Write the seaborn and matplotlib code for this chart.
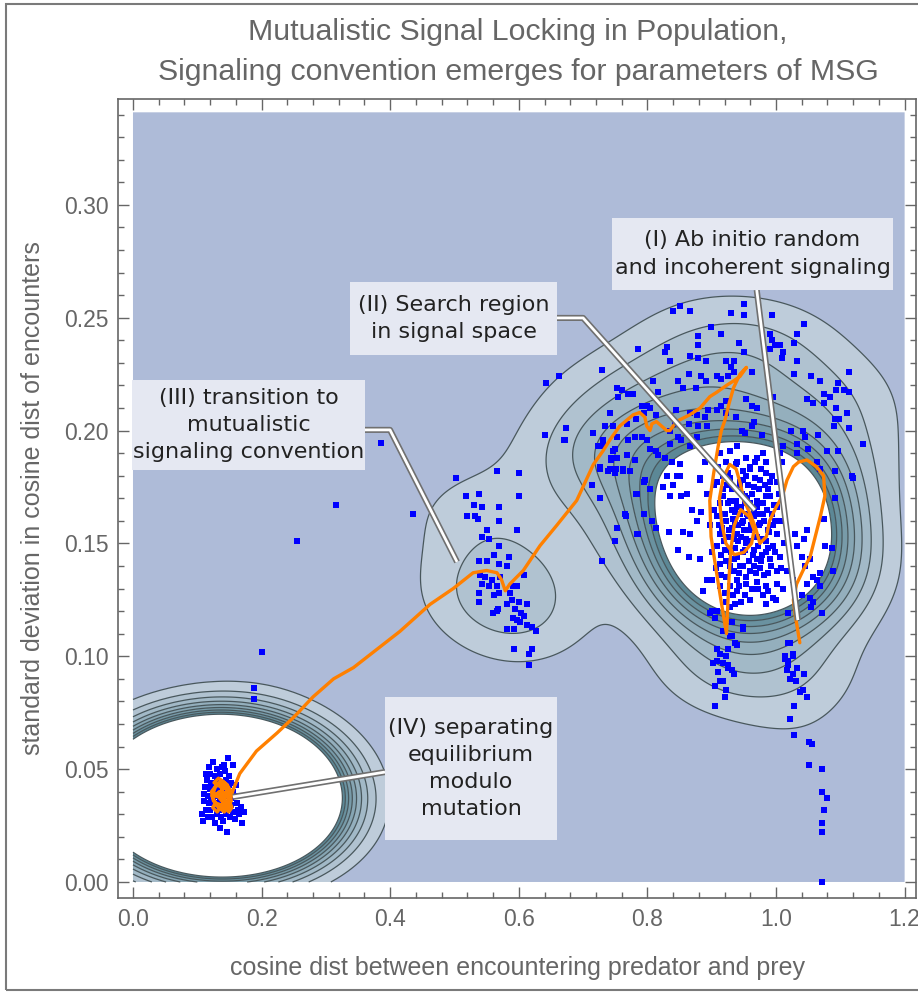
import numpy as np
import pandas as pd
import matplotlib
matplotlib.use("Agg")
import matplotlib.pyplot as plt
import matplotlib.patheffects as pe
from matplotlib.patches import Rectangle
from matplotlib.ticker import MultipleLocator, FormatStrFormatter
import seaborn as sns

sns.set_style("ticks")
plt.rcParams['font.family'] = ['Liberation Sans', 'DejaVu Sans']

# ---------------- data ----------------
title = "Mutualistic Signal Locking in Population,\nSignaling convention emerges for parameters of MSG"
x_label = "cosine dist between encountering predator and prey"
y_label = "standard deviation in cosine dist of encounters"

upper_pts = [
    (0.851,0.255),(0.840,0.253),(0.867,0.253),(0.950,0.256),(0.930,0.252),(0.950,0.251),(0.993,0.251),
    (1.044,0.247),(0.899,0.246),(0.914,0.243),(0.879,0.242),(0.879,0.238),(0.942,0.239),(0.950,0.235),
    (0.991,0.243),(0.993,0.240),(0.998,0.238),(0.991,0.236),(1.006,0.238),(1.011,0.235),(1.009,0.232),
    (1.032,0.243),(1.028,0.239),(0.786,0.236),(0.830,0.237),(0.827,0.235),(0.730,0.227),(0.835,0.231),
    (0.866,0.233),(0.879,0.232),(0.891,0.231),(0.922,0.231),(0.935,0.231),(0.930,0.228),(0.935,0.226),
    (0.962,0.226),(1.028,0.225),(1.032,0.231),(1.055,0.224),(1.068,0.222),(1.114,0.226),(0.848,0.222),
    (0.856,0.219),(0.876,0.219),(0.864,0.225),(0.883,0.224),(0.891,0.222),(0.908,0.224),(0.914,0.223),
    (0.926,0.224),(0.817,0.217),(0.809,0.222),(0.752,0.219),(0.760,0.218),(0.755,0.215),(0.770,0.216),
    (0.778,0.216),(1.097,0.221),(1.094,0.218),(1.105,0.218),(1.048,0.214),(1.057,0.212),(1.074,0.216),
    (1.084,0.215),(1.114,0.217),(1.074,0.212),(1.094,0.210),(1.110,0.208),(1.092,0.205),(1.098,0.205),
    (1.090,0.202),(1.114,0.201),(0.791,0.211),(0.799,0.211),(0.804,0.210),(0.794,0.208),(0.814,0.207),
    (0.783,0.205),(0.768,0.203),(0.747,0.202),(0.734,0.202),(0.742,0.208),(0.844,0.209),(0.866,0.208),
    (0.877,0.207),(0.895,0.209),(0.908,0.209),(0.923,0.208),(0.915,0.211),(0.923,0.213),(0.954,0.214),
    (0.962,0.211),(0.970,0.210),(0.995,0.215),(0.966,0.204),(0.937,0.206),(0.947,0.200),(0.952,0.199),
    (0.962,0.202),(0.978,0.198),(0.892,0.202),(0.890,0.206),(0.879,0.202),(0.864,0.203),(0.843,0.203),
    (0.835,0.200),(0.715,0.199),(0.731,0.196),(0.752,0.197),(0.770,0.196),(0.781,0.197),(0.791,0.197),
    (0.799,0.196),(0.835,0.194),(0.848,0.197),(0.853,0.196),(0.866,0.193),(0.877,0.197),(0.723,0.193),
    (0.747,0.191),(0.752,0.188),(0.744,0.187),(0.768,0.189),(0.804,0.192),(0.814,0.191),(0.817,0.189),
    (0.827,0.188),(0.838,0.186),(0.851,0.185),(0.742,0.183),(0.751,0.183),(0.762,0.183),(0.773,0.182),
    (0.726,0.184),(0.794,0.177),(0.830,0.180),(0.846,0.180),(1.024,0.200),(1.042,0.200),(1.045,0.197),
    (1.066,0.198),(1.032,0.194),(1.011,0.193),(1.006,0.190),(1.032,0.190),(1.050,0.192),(1.079,0.191),
    (1.097,0.191),(1.135,0.194),(1.010,0.186),(1.092,0.182),(1.063,0.186),(0.913,0.190),(0.928,0.191),
    (0.939,0.193),(0.954,0.188),(0.970,0.188),(0.980,0.190),(0.985,0.186),(0.923,0.186),(0.939,0.186),
    (0.960,0.183),(0.991,0.177),(0.918,0.180),(0.949,0.178),(0.882,0.178),(0.890,0.186),
]

core_pts = [
    (0.765,0.163),(0.783,0.172),(0.796,0.178),(0.804,0.174),(0.794,0.163),(0.807,0.160),(0.814,0.157),
    (0.786,0.154),(0.825,0.175),(0.840,0.176),(0.851,0.180),(0.835,0.171),(0.853,0.171),(0.861,0.172),
    (0.882,0.179),(0.869,0.165),(0.884,0.164),(0.833,0.155),(0.856,0.155),(0.877,0.160),(0.866,0.154),
    (0.848,0.147),(0.864,0.144),(0.882,0.143),(0.892,0.134),(0.887,0.129),(0.900,0.134),
    (0.908,0.177),(0.918,0.174),(0.929,0.179),(0.944,0.177),(0.954,0.180),(0.965,0.175),(0.975,0.178),
    (0.985,0.181),(0.988,0.174),(1.001,0.177),(0.913,0.168),(0.929,0.169),(0.939,0.166),(0.952,0.168),
    (0.965,0.165),(0.980,0.168),(0.993,0.163),(1.001,0.166),(0.908,0.162),(0.923,0.160),(0.936,0.159),
    (0.949,0.160),(0.962,0.157),(0.975,0.159),(0.988,0.156),(0.913,0.154),(0.926,0.153),(0.939,0.154),
    (0.954,0.152),(0.970,0.153),(0.985,0.151),(0.996,0.149),(0.908,0.149),(0.921,0.147),(0.936,0.148),
    (0.949,0.146),(0.965,0.147),(0.978,0.145),(0.991,0.143),(1.006,0.144),(0.913,0.141),(0.929,0.140),
    (0.944,0.140),(0.960,0.138),(0.975,0.139),(0.988,0.137),(1.001,0.138),(0.923,0.135),(0.939,0.134),
    (0.954,0.132),(0.970,0.133),(0.985,0.131),(1.001,0.132),(1.011,0.130),(0.939,0.129),(0.952,0.127),
    (0.980,0.127),(0.996,0.126),(0.913,0.131),(0.916,0.157),(0.931,0.157),(0.944,0.163),(0.957,0.162),
    (0.970,0.169),(0.980,0.163),(0.998,0.160),(0.934,0.143),(0.970,0.143),(0.954,0.150),(0.941,0.151),
    (0.931,0.165),(0.947,0.172),(0.985,0.171),
    (1.030,0.154),(1.043,0.152),(1.048,0.156),(1.032,0.149),(1.040,0.144),(1.053,0.143),(1.045,0.140),
    (1.058,0.135),(1.048,0.132),(1.063,0.134),(1.069,0.131),(1.053,0.126),(1.040,0.127),(1.058,0.124),
    (1.069,0.137),(1.074,0.161),(1.087,0.148),(1.071,0.119),(1.055,0.122),(1.019,0.119),(1.017,0.138),
    (1.027,0.134),(1.092,0.170),(1.118,0.180),(1.068,0.183),(0.897,0.119),(0.905,0.117),(0.928,0.122),
    (0.949,0.113),(0.936,0.123),(0.923,0.124),(1.120,0.179),(1.076,0.149),(1.089,0.138),
]

dense_core_pts = [
    (0.892,0.172),(0.897,0.158),(0.901,0.146),(0.904,0.165),(0.906,0.139),(0.910,0.184),(0.911,0.158),
    (0.914,0.136),(0.917,0.171),(0.919,0.151),(0.920,0.163),(0.922,0.142),(0.925,0.181),(0.926,0.168),
    (0.927,0.156),(0.928,0.131),(0.930,0.146),(0.932,0.174),(0.933,0.161),(0.934,0.152),(0.935,0.138),
    (0.937,0.185),(0.938,0.169),(0.940,0.144),(0.941,0.158),(0.943,0.131),(0.944,0.176),(0.945,0.153),
    (0.946,0.166),(0.948,0.140),(0.949,0.182),(0.950,0.156),(0.951,0.171),(0.952,0.147),(0.953,0.135),
    (0.955,0.163),(0.956,0.176),(0.957,0.151),(0.958,0.142),(0.959,0.168),(0.960,0.184),(0.961,0.158),
    (0.962,0.130),(0.963,0.172),(0.964,0.145),(0.966,0.162),(0.967,0.153),(0.968,0.179),(0.969,0.137),
    (0.971,0.166),(0.972,0.149),(0.973,0.174),(0.974,0.158),(0.976,0.142),(0.977,0.183),(0.978,0.168),
    (0.979,0.152),(0.981,0.136),(0.982,0.160),(0.983,0.176),(0.984,0.146),(0.986,0.165),(0.987,0.129),
    (0.989,0.155),(0.990,0.171),(0.992,0.140),(0.994,0.180),(0.995,0.158),(0.997,0.167),(0.999,0.146),
    (1.002,0.154),(1.004,0.172),(1.006,0.160),(1.008,0.139),(1.012,0.150),(0.903,0.176),(0.915,0.145),
    (0.924,0.176),(0.936,0.164),(0.947,0.159),(0.958,0.156),(0.965,0.140),(0.975,0.163),(0.988,0.148),
    (0.942,0.137),(0.955,0.170),(0.968,0.186),(0.921,0.128),(0.933,0.127),(0.946,0.124),(0.959,0.125),
    (0.972,0.130),(0.985,0.123),(1.000,0.125),
]
core_overlap = 4   # stacked samples behind each plotted point of the dense core

tail_pts = [
    (0.931,0.109),(0.936,0.106),(0.908,0.103),(0.913,0.101),(0.923,0.100),(0.908,0.098),(0.918,0.097),
    (0.926,0.095),(1.022,0.106),(1.027,0.101),(1.014,0.099),(1.019,0.096),
    (0.900,0.120),(0.908,0.120),(0.905,0.117),(0.931,0.115),(0.918,0.111),(0.928,0.109),(0.939,0.105),
    (0.949,0.112),(0.926,0.103),(0.910,0.093),(0.902,0.097),(0.926,0.096),(0.931,0.094),(0.934,0.092),
    (0.918,0.089),(0.905,0.087),(0.923,0.085),(0.921,0.082),(0.905,0.078),(0.913,0.089),
    (1.019,0.106),(1.027,0.100),(1.014,0.100),(1.019,0.098),(1.017,0.094),(1.032,0.095),(1.027,0.092),
    (1.021,0.090),(1.044,0.092),(1.031,0.089),(1.042,0.085),(1.048,0.082),(1.037,0.084),(1.028,0.078),
    (1.021,0.072),(1.028,0.065),(1.052,0.062),(1.056,0.061),(1.052,0.052),(1.071,0.050),(1.071,0.040),
    (1.079,0.037),(1.075,0.032),(1.071,0.026),(1.071,0.022),(1.071,0.000),(1.055,0.122),(1.071,0.119),
]

mid_pts = [
    (0.502,0.179),(0.566,0.182),(0.600,0.181),(0.436,0.163),(0.518,0.171),(0.538,0.172),(0.530,0.167),
    (0.542,0.166),(0.519,0.162),(0.532,0.162),(0.536,0.161),(0.569,0.166),(0.569,0.160),(0.600,0.171),
    (0.550,0.156),(0.542,0.153),(0.554,0.152),(0.597,0.156),(0.569,0.149),(0.561,0.145),(0.585,0.144),
    (0.538,0.142),(0.550,0.142),(0.569,0.141),(0.581,0.140),(0.608,0.136),(0.540,0.136),(0.547,0.135),
    (0.558,0.134),(0.542,0.132),(0.553,0.131),(0.571,0.135),(0.566,0.131),(0.591,0.131),(0.597,0.131),
    (0.538,0.128),(0.561,0.127),(0.569,0.128),(0.586,0.128),(0.589,0.125),(0.538,0.124),(0.581,0.123),
    (0.600,0.124),(0.612,0.123),(0.568,0.121),(0.566,0.120),(0.560,0.119),(0.594,0.121),(0.604,0.119),
    (0.608,0.118),(0.591,0.117),(0.597,0.116),(0.602,0.115),(0.612,0.114),(0.620,0.113),(0.627,0.111),
    (0.581,0.112),(0.593,0.112),(0.593,0.103),(0.620,0.103),(0.616,0.101),(0.616,0.096),
    (0.729,0.142),(0.726,0.170),(0.714,0.176),(0.726,0.183),(0.739,0.182),(0.750,0.181),(0.762,0.182),
    (0.773,0.182),(0.743,0.188),(0.731,0.193),(0.750,0.192),(0.769,0.189),(0.781,0.187),(0.767,0.162),
    (0.753,0.157),(0.750,0.151),(0.784,0.172),(0.784,0.154),(0.670,0.196),(0.643,0.221),(0.663,0.224),
    (0.641,0.198),(0.672,0.196),(0.674,0.201),(0.715,0.199),(0.729,0.227),
]

stray_pts = [(0.386,0.1945),(0.316,0.167),(0.255,0.151),(0.200,0.102),(0.188,0.086),(0.188,0.081)]

ll_pts = [
    (0.125,0.053),(0.148,0.055),(0.156,0.052),(0.131,0.050),(0.138,0.051),(0.120,0.048),(0.128,0.047),
    (0.135,0.048),(0.143,0.049),(0.150,0.047),(0.115,0.045),(0.122,0.044),(0.130,0.045),(0.137,0.044),
    (0.145,0.045),(0.153,0.044),(0.112,0.042),(0.119,0.041),(0.126,0.042),(0.133,0.041),(0.140,0.042),
    (0.147,0.041),(0.155,0.040),(0.110,0.039),(0.117,0.038),(0.124,0.039),(0.131,0.038),(0.138,0.039),
    (0.145,0.038),(0.152,0.037),(0.159,0.038),(0.111,0.036),(0.118,0.035),(0.125,0.036),(0.132,0.035),
    (0.139,0.036),(0.146,0.035),(0.153,0.034),(0.161,0.035),(0.113,0.032),(0.120,0.032),(0.127,0.033),
    (0.134,0.032),(0.141,0.033),(0.148,0.032),(0.155,0.031),(0.163,0.032),(0.168,0.033),(0.116,0.029),
    (0.123,0.029),(0.130,0.030),(0.137,0.029),(0.144,0.030),(0.151,0.029),(0.158,0.028),(0.165,0.030),
    (0.172,0.031),(0.109,0.027),(0.128,0.026),(0.140,0.027),(0.146,0.022),(0.169,0.026),(0.135,0.024),
    (0.108,0.030),(0.114,0.048),(0.142,0.052),(0.160,0.043),(0.118,0.051),(0.127,0.040),(0.135,0.036),
    (0.143,0.040),(0.150,0.043),(0.121,0.037),(0.131,0.043),
]
ll_overlap = 18   # stacked samples hidden behind each plotted point of the converged cluster

path_pts = [
    (1.037,0.106),(1.030,0.118),(1.027,0.125),(1.032,0.132),(1.042,0.138),(1.053,0.144),(1.061,0.153),
    (1.069,0.162),(1.076,0.171),(1.074,0.180),(1.063,0.184),(1.048,0.187),(1.035,0.186),(1.027,0.184),
    (1.017,0.178),(1.010,0.171),(1.000,0.166),(0.990,0.160),(0.985,0.153),(0.975,0.150),(0.968,0.157),
    (0.960,0.163),(0.950,0.169),(0.945,0.176),(0.938,0.183),(0.928,0.185),(0.918,0.179),(0.912,0.170),
    (0.915,0.160),(0.922,0.150),(0.935,0.145),(0.950,0.146),(0.962,0.150),(0.966,0.156),(0.958,0.162),
    (0.945,0.165),(0.935,0.158),(0.930,0.148),(0.927,0.135),(0.925,0.122),(0.923,0.110),(0.916,0.122),
    (0.907,0.138),(0.899,0.153),(0.897,0.169),(0.903,0.181),(0.910,0.193),(0.915,0.200),(0.921,0.205),
    (0.927,0.212),(0.934,0.219),(0.944,0.225),(0.954,0.228),(0.944,0.224),(0.934,0.222),(0.923,0.220),
    (0.908,0.217),(0.897,0.215),(0.882,0.210),(0.866,0.207),(0.845,0.204),(0.835,0.200),(0.830,0.200),
    (0.822,0.202),(0.814,0.204),(0.807,0.203),(0.804,0.200),(0.799,0.202),(0.796,0.206),(0.788,0.208),
    (0.778,0.207),(0.757,0.202),(0.742,0.196),(0.731,0.191),(0.716,0.185),(0.703,0.177),(0.690,0.169),
    (0.659,0.158),(0.633,0.149),(0.607,0.138),(0.586,0.132),(0.579,0.129),(0.573,0.134),(0.566,0.137),
    (0.550,0.138),(0.529,0.137),(0.498,0.130),(0.462,0.123),(0.415,0.111),(0.379,0.103),(0.343,0.095),
    (0.312,0.090),(0.280,0.082),(0.250,0.073),(0.224,0.066),(0.192,0.058),(0.166,0.048),(0.156,0.041),
    (0.150,0.035),(0.142,0.031),(0.133,0.033),(0.125,0.036),(0.122,0.040),(0.130,0.043),(0.138,0.045),
    (0.147,0.043),(0.152,0.038),(0.146,0.034),(0.136,0.037),(0.129,0.039),(0.140,0.040),(0.148,0.037),
    (0.154,0.033),(0.149,0.031),(0.139,0.034),(0.128,0.035),(0.124,0.033),(0.131,0.031),(0.143,0.036),
    (0.137,0.042),(0.126,0.044),(0.133,0.046),(0.142,0.044),(0.151,0.041),(0.144,0.039),(0.134,0.040),
    (0.127,0.038),(0.139,0.038),(0.150,0.033),(0.141,0.032),(0.130,0.034),(0.123,0.038),(0.128,0.042),
    (0.136,0.044),(0.145,0.041),(0.153,0.036),(0.147,0.033),(0.138,0.036),(0.132,0.038),(0.141,0.042),
]

# callouts: text, box (x0, x1, y0, y1), leader polyline
callout_texts = ["(I) Ab initio random\nand incoherent signaling",
                 "(II) Search region\nin signal space",
                 "(III) transition to\nmutualistic\nsignaling convention",
                 "(IV) separating\nequilibrium\nmodulo\nmutation"]
callout_boxes = [(0.745, 1.182, 0.2623, 0.2942),
                 (0.3375, 0.6594, 0.2335, 0.2658),
                 (-0.0016, 0.3608, 0.1825, 0.2224),
                 (0.3919, 0.6594, 0.0186, 0.0820)]
callout_leaders = [[(0.970, 0.2623), (1.034, 0.116)],
                   [(0.6594, 0.2499), (0.700, 0.2499), (0.967, 0.1648)],
                   [(0.3608, 0.2003), (0.3997, 0.2003), (0.504, 0.1418)],
                   [(0.3919, 0.0487), (0.1555, 0.0377)]]

# ---------------- assemble ----------------
frames = []
for name, pts in [("upper", upper_pts), ("core", core_pts), ("dense", dense_core_pts),
                  ("tail", tail_pts), ("mid", mid_pts), ("stray", stray_pts), ("converged", ll_pts)]:
    d = pd.DataFrame(pts, columns=["x", "y"])
    d["group"] = name
    frames.append(d)
df = pd.concat(frames, ignore_index=True)
df["w"] = 1.0
df.loc[df["group"] == "converged", "w"] = ll_overlap
df.loc[df["group"] == "dense", "w"] = core_overlap
path = pd.DataFrame(path_pts, columns=["x", "y"])

# ---------------- figure ----------------
W, H = 918, 998
fig = plt.figure(figsize=(W / 100, H / 100), dpi=100)
fig.patch.set_facecolor("white")
ax = fig.add_axes([118 / W, 1 - 898 / H, (916 - 118) / W, (898 - 99) / H])
ax.set_facecolor("white")

# smooth density (Gaussian kernel, per-axis bandwidth) over the plot range
hx, hy = 0.085, 0.0145
gx = np.linspace(0, 1.2, 481)
gy = np.linspace(0, 0.341, 320)
px, py, pw = df["x"].to_numpy(), df["y"].to_numpy(), df["w"].to_numpy()
ex = np.exp(-0.5 * ((gx[None, :] - px[:, None]) / hx) ** 2)
ey = np.exp(-0.5 * ((gy[None, :] - py[:, None]) / hy) ** 2)
dens = (ey * pw[:, None]).T @ ex
main_peak = dens[:, gx > 0.6].max()
step = main_peak / 24.0
n_lines = 9
line_levels = [k * step for k in range(1, n_lines + 1)]
levels = [-1.0] + line_levels + [dens.max() * 1.01 + 10 * step]
c_lo = np.array([190, 204, 218]) / 255
c_hi = np.array([92, 136, 150]) / 255
band_cols = ["#aebbd8"] + [tuple(c_lo + (c_hi - c_lo) * t) for t in np.linspace(0, 1, n_lines - 1)] + ["white"]
ax.contourf(gx, gy, dens, levels=levels, colors=band_cols, zorder=1, antialiased=True)
ax.contour(gx, gy, dens, levels=line_levels, colors="#48575c", linewidths=0.9, zorder=2)

sns.scatterplot(data=df, x="x", y="y", color="#0000ff", marker="s", s=14, linewidth=0,
                ax=ax, zorder=3, legend=False)
sns.lineplot(data=path, x="x", y="y", sort=False, estimator=None, color="#ff8000",
             linewidth=2.4, ax=ax, zorder=4)

for txt, (x0, x1, y0, y1), lead in zip(callout_texts, callout_boxes, callout_leaders):
    lx, ly = zip(*lead)
    ax.plot(lx, ly, color="white", lw=2.0, solid_capstyle="butt", zorder=5,
            path_effects=[pe.Stroke(linewidth=4.4, foreground="#707070"), pe.Normal()])
    ax.add_patch(Rectangle((x0, y0), x1 - x0, y1 - y0, facecolor="#e5e8f2", edgecolor="none", zorder=6))
    ax.text((x0 + x1) / 2, (y0 + y1) / 2, txt, ha="center", va="center", multialignment="center",
            fontsize=16, family=["DejaVu Sans"], color="#222222", linespacing=1.45, zorder=7)

# axes styling
ax.set_xlim(-0.0233, 1.2177)
ax.set_ylim(-0.0071, 0.3469)
ax.xaxis.set_major_locator(MultipleLocator(0.2))
ax.xaxis.set_minor_locator(MultipleLocator(0.04))
ax.yaxis.set_major_locator(MultipleLocator(0.05))
ax.yaxis.set_minor_locator(MultipleLocator(0.01))
ax.xaxis.set_major_formatter(FormatStrFormatter("%.1f"))
ax.yaxis.set_major_formatter(FormatStrFormatter("%.2f"))
ax.tick_params(which="both", direction="in", top=True, right=True, color="#666666",
               labelcolor="#666666", labelsize=16.5, width=1.0)
ax.tick_params(which="major", length=8, pad=7)
ax.tick_params(which="minor", length=4)
for s in ax.spines.values():
    s.set_color("#666666")
    s.set_linewidth(1.2)

ax.set_xlabel(x_label, fontsize=18, color="#666666")
ax.set_ylabel(y_label, fontsize=18, color="#666666")
ax.xaxis.set_label_coords(0.5, -0.072)
ax.yaxis.set_label_coords(-0.092, 0.5)

fig.text(518 / W, 1 - 52 / H, title, ha="center", va="center", multialignment="center",
         fontsize=21.8, color="#666666", linespacing=1.55)

fig.patches.append(Rectangle((6 / W, 1 - 990 / H), 1.2, (990 - 4) / H, transform=fig.transFigure,
                             fill=False, edgecolor="#7a7a7a", lw=1.5))

fig.savefig("out.png", dpi=100)
